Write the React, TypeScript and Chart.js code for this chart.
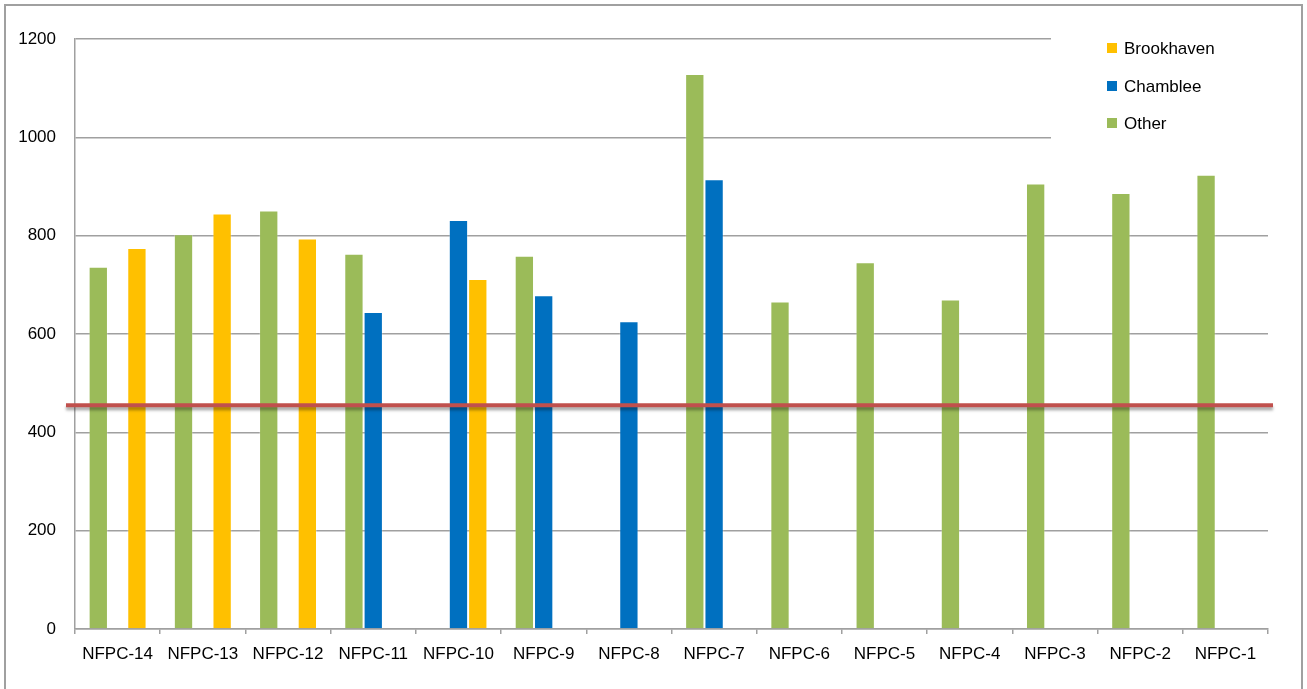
import React, { useEffect, useRef } from 'react';
import { Chart, registerables } from 'chart.js';

Chart.register(...registerables);

const categories = [
  'NFPC-14', 'NFPC-13', 'NFPC-12', 'NFPC-11', 'NFPC-10', 'NFPC-9', 'NFPC-8',
  'NFPC-7', 'NFPC-6', 'NFPC-5', 'NFPC-4', 'NFPC-3', 'NFPC-2', 'NFPC-1',
];
const otherValues = [737, 803, 851, 763, null, 759, null, 1129, 666, 746, 670, 906, 887, 924];
const chambleeValues = [null, null, null, 645, 832, 679, 626, 915, null, null, null, null, null, null];
const brookhavenValues = [775, 845, 794, null, 712, null, null, null, null, null, null, null, null, null];
const yTickValues = [0, 200, 400, 600, 800, 1000, 1200];
const thresholdValue = 455;

const seriesNames = ['Brookhaven', 'Chamblee', 'Other'];
const seriesColors: Record<string, string> = {
  Brookhaven: '#FFC000',
  Chamblee: '#0070C0',
  Other: '#9BBB59',
};

const FONT = "'Liberation Sans', Arial, sans-serif";
const FONT_SIZE = 17;

export default function App() {
  const canvasRef = useRef<HTMLCanvasElement | null>(null);

  useEffect(() => {
    const canvas = canvasRef.current;
    if (!canvas) return;

    const overlayPlugin = {
      id: 'overlay',
      beforeDatasetsDraw(chart: any) {
        const ctx = chart.ctx;
        ctx.save();
        ctx.fillStyle = '#ffffff';
        ctx.fillRect(1051, 28, 222, 118);
        const rowsY = [48, 86, 123];
        seriesNames.forEach((name, i) => {
          ctx.fillStyle = seriesColors[name];
          ctx.fillRect(1107, rowsY[i] - 5, 10, 10);
          ctx.fillStyle = '#000000';
          ctx.font = `${FONT_SIZE}px ${FONT}`;
          ctx.textBaseline = 'middle';
          ctx.textAlign = 'left';
          ctx.fillText(name, 1124, rowsY[i] + 1);
        });
        ctx.restore();
      },
      afterDatasetsDraw(chart: any) {
        const ctx = chart.ctx;
        const y = chart.scales.y.getPixelForValue(thresholdValue);
        ctx.save();
        ctx.strokeStyle = '#C0504D';
        ctx.lineWidth = 4;
        ctx.shadowColor = 'rgba(0,0,0,0.35)';
        ctx.shadowOffsetY = 3;
        ctx.shadowBlur = 3;
        ctx.beginPath();
        ctx.moveTo(66, y);
        ctx.lineTo(1273, y);
        ctx.stroke();
        ctx.restore();
      },
    };

    const edge = 'rgba(255,255,255,0.25)';
    const chart = new Chart(canvas, {
      type: 'bar',
      data: {
        labels: categories,
        datasets: [
          { label: 'Other', data: otherValues, backgroundColor: seriesColors.Other, borderColor: edge, borderWidth: 1 },
          { label: 'Chamblee', data: chambleeValues, backgroundColor: seriesColors.Chamblee, borderColor: edge, borderWidth: 1 },
          { label: 'Brookhaven', data: brookhavenValues, backgroundColor: seriesColors.Brookhaven, borderColor: edge, borderWidth: 1 },
        ],
      },
      options: {
        responsive: false,
        animation: false,
        devicePixelRatio: 1,
        layout: { padding: { left: 0, right: 39, top: 39, bottom: 0 } },
        datasets: { bar: { categoryPercentage: 0.68, barPercentage: 1 } },
        plugins: { legend: { display: false }, tooltip: { enabled: false } },
        scales: {
          x: {
            afterFit: (scale: any) => { scale.height = 60; },
            grid: { display: true, drawOnChartArea: false, drawTicks: true, tickLength: 5, color: '#a0a0a0', lineWidth: 1.5, offset: true },
            border: { display: true, color: '#a0a0a0', width: 1.5 },
            ticks: { color: '#000', font: { family: FONT, size: FONT_SIZE }, padding: 10, maxRotation: 0, autoSkip: false },
          },
          y: {
            min: 0,
            max: 1200,
            afterFit: (scale: any) => { scale.width = 75; },
            afterBuildTicks: (scale: any) => { scale.ticks = yTickValues.map((v) => ({ value: v })); },
            grid: { color: '#a0a0a0', lineWidth: 1.5, drawTicks: false },
            border: { display: true, color: '#a0a0a0', width: 1.5 },
            ticks: { color: '#000', font: { family: FONT, size: FONT_SIZE }, padding: 19, callback: (v: any) => String(v) },
          },
        },
      },
      plugins: [overlayPlugin],
    });

    return () => chart.destroy();
  }, []);

  return (
    <div style={{ position: 'fixed', left: 0, top: 0, width: 1307, height: 689, background: '#fff', overflow: 'hidden' }}>
      <canvas ref={canvasRef} width={1307} height={689} style={{ display: 'block', width: 1307, height: 689 }} />
      <div style={{ position: 'absolute', left: 4, top: 4, width: 1299, height: 700, border: '2px solid #a0a0a0', boxSizing: 'border-box', pointerEvents: 'none' }} />
    </div>
  );
}
